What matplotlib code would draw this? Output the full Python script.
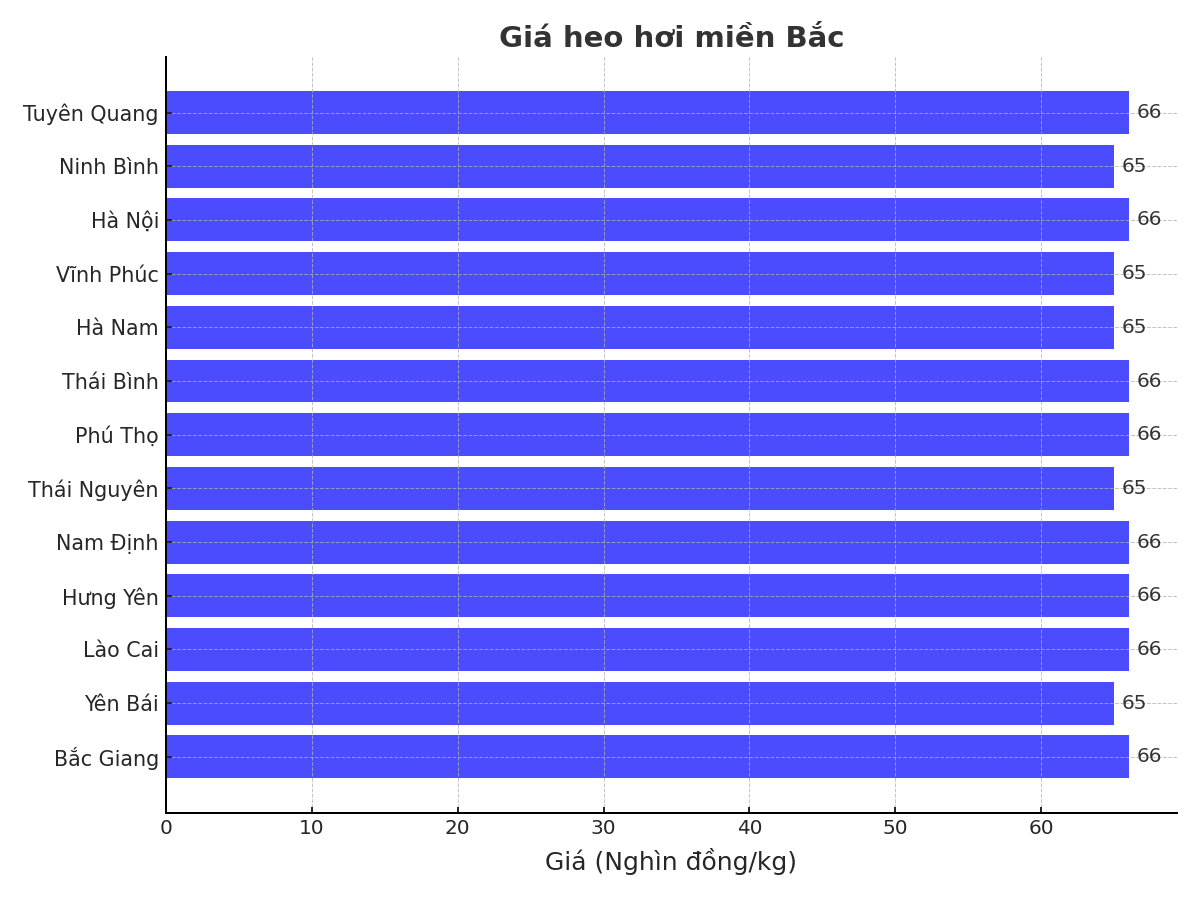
import matplotlib
matplotlib.use("Agg")
from matplotlib import pyplot as plt

# Data
provinces = [
    "Bắc Giang", "Yên Bái", "Lào Cai", "Hưng Yên", "Nam Định", "Thái Nguyên",
    "Phú Thọ", "Thái Bình", "Hà Nam", "Vĩnh Phúc", "Hà Nội", "Ninh Bình",
    "Tuyên Quang",
]
prices = [66, 65, 66, 66, 66, 65, 66, 66, 65, 65, 66, 65, 66]

plt.rcParams["font.family"] = "DejaVu Sans"
plt.rcParams["text.color"] = "#262626"
plt.rcParams["axes.labelcolor"] = "#262626"
plt.rcParams["xtick.color"] = "#262626"
plt.rcParams["ytick.color"] = "#262626"

fig, ax = plt.subplots(figsize=(10, 7.5), dpi=120)
fig.subplots_adjust(left=0.138, right=0.981, top=0.937, bottom=0.097)

bars = ax.barh(provinces, prices, color="blue", alpha=0.7, height=0.8)
for bar, value in zip(bars, prices):
    ax.text(bar.get_width() + 0.5, bar.get_y() + bar.get_height() / 2,
            f"{value}", va="center", ha="left", fontsize=12, color="#333333")

ax.set_title("Giá heo hơi miền Bắc", fontsize=17.5, fontweight="bold",
             color="#333333", pad=6)
ax.set_xlabel("Giá (Nghìn đồng/kg)", fontsize=15, labelpad=6)
ax.tick_params(axis="x", direction="in", labelsize=12, width=1.2)
ax.tick_params(axis="y", direction="in", labelsize=12.4, width=1.2, pad=4)
ax.spines["top"].set_visible(False)
ax.spines["right"].set_visible(False)
ax.spines["left"].set_linewidth(1.2)
ax.spines["bottom"].set_linewidth(1.2)
ax.grid(True, linestyle="--", color="#b0b0b0", alpha=0.75, linewidth=0.6)

plt.savefig("out.png")
